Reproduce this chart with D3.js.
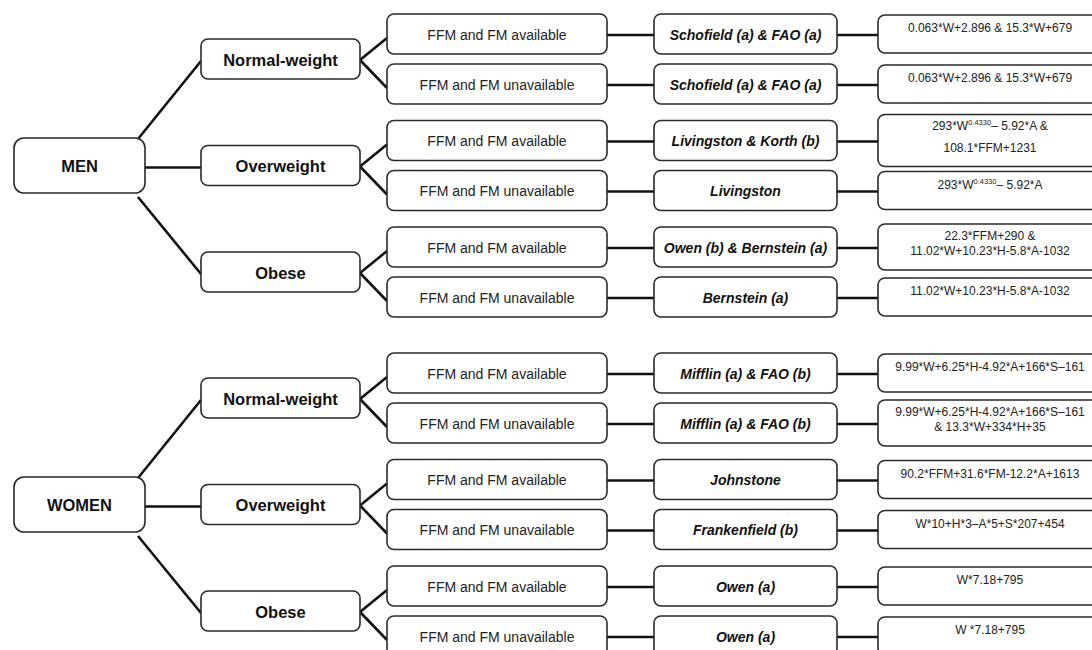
<!DOCTYPE html>
<html>
<head>
<meta charset="utf-8">
<script src="https://cdn.jsdelivr.net/npm/d3@7"></script>
<style>
  body { margin: 0; background: #fff; }
  svg { display: block; font-family: "Liberation Sans", Arial, Helvetica, sans-serif; }
</style>
</head>
<body>
<svg id="chart" width="1092" height="650"></svg>
<script>
// niveaux de l'arbre
const sexes = ["MEN", "WOMEN"];
const bmiClasses = ["Normal-weight", "Overweight", "Obese"];
const availability = ["FFM and FM available", "FFM and FM unavailable"];

// equation retenue pour chaque feuille (sexe x IMC x disponibilite)
const authors = [
  "Schofield (a) & FAO (a)", "Schofield (a) & FAO (a)",
  "Livingston & Korth (b)", "Livingston",
  "Owen (b) & Bernstein (a)", "Bernstein (a)",
  "Mifflin (a) & FAO (b)", "Mifflin (a) & FAO (b)",
  "Johnstone", "Frankenfield (b)",
  "Owen (a)", "Owen (a)"
];

// formules : "|" = retour a la ligne, ^{..} = exposant
const formulas = [
  "0.063*W+2.896 & 15.3*W+679",
  "0.063*W+2.896 & 15.3*W+679",
  "293*W^{0.4330}\u2013 5.92*A &|108.1*FFM+1231",
  "293*W^{0.4330}\u2013 5.92*A",
  "22.3*FFM+290 &|11.02*W+10.23*H-5.8*A-1032",
  "11.02*W+10.23*H-5.8*A-1032",
  "9.99*W+6.25*H-4.92*A+166*S\u2013161",
  "9.99*W+6.25*H-4.92*A+166*S\u2013161|& 13.3*W+334*H+35",
  "90.2*FFM+31.6*FM-12.2*A+1613",
  "W*10+H*3\u2013A*5+S*207+454",
  "W*7.18+795",
  "W *7.18+795"
];

const svg = d3.select("#chart");

// colonnes du schema
const col = {
  sex: { x: 14, w: 131, h: 55, r: 10 },
  bmi: { x: 201, w: 159, h: 40, r: 7 },
  avail: { x: 387, w: 220, h: 40, r: 7 },
  author: { x: 654, w: 183, h: 40, r: 7 },
  formula: { x: 878, w: 224, h: 38, r: 7 }
};

// construction des feuilles
const leaves = [];
sexes.forEach((s, si) => {
  bmiClasses.forEach((b, bi) => {
    availability.forEach((a, ai) => {
      const i = leaves.length;
      leaves.push({ i, si, bi, ai, pair: si * 3 + bi, avail: a,
        author: authors[i], formula: formulas[i] });
    });
  });
});

// position verticale : un pas par feuille + petit ecart entre paires et entre sexes
const slot = d => d.i + 0.13 * d.pair + 0.39 * d.si;
const y = d3.scaleLinear()
  .domain([0, slot(leaves[leaves.length - 1])])
  .range([34, 636]);

const bmiNodes = [];
sexes.forEach((s, si) => {
  bmiClasses.forEach((b, bi) => {
    const kids = leaves.filter(l => l.si === si && l.bi === bi);
    bmiNodes.push({ si, bi, name: b, cy: d3.mean(kids, k => y(slot(k))) });
  });
});
const sexNodes = sexes.map((s, si) => ({
  si, name: s, cy: d3.mean(bmiNodes.filter(n => n.si === si), n => n.cy)
}));

// ---- liens
const links = svg.append("g")
  .attr("stroke", "#111")
  .attr("stroke-width", 2.6)
  .attr("fill", "none");

sexNodes.forEach(sn => {
  const top = sn.cy - col.sex.h / 2, bot = sn.cy + col.sex.h / 2;
  bmiNodes.filter(n => n.si === sn.si).forEach(n => {
    let x1 = col.sex.x + col.sex.w - 7, y1;
    if (n.bi === 0) y1 = top + 1;
    else if (n.bi === 2) y1 = bot + 4;
    else { x1 = col.sex.x + col.sex.w; y1 = n.cy + 2; }
    links.append("line")
      .attr("x1", x1).attr("y1", y1)
      .attr("x2", col.bmi.x).attr("y2", n.cy + 2);
  });
});

bmiNodes.forEach(n => {
  leaves.filter(l => l.si === n.si && l.bi === n.bi).forEach(l => {
    links.append("line")
      .attr("x1", col.bmi.x + col.bmi.w).attr("y1", n.cy + 1)
      .attr("x2", col.avail.x).attr("y2", y(slot(l)) + 4);
  });
});

leaves.forEach(l => {
  const ly = y(slot(l)) + 1;
  links.append("line")
    .attr("x1", col.avail.x + col.avail.w).attr("y1", ly)
    .attr("x2", col.author.x).attr("y2", ly);
  links.append("line")
    .attr("x1", col.author.x + col.author.w).attr("y1", ly)
    .attr("x2", col.formula.x).attr("y2", ly);
});

// ---- boites
function box(g, c, cy, h) {
  g.append("rect")
    .attr("x", c.x).attr("y", cy - h / 2)
    .attr("width", c.w).attr("height", h)
    .attr("rx", c.r).attr("ry", c.r)
    .attr("fill", "#fff")
    .attr("stroke", "#2a2a2a")
    .attr("stroke-width", 1.6);
}

const boxes = svg.append("g");

sexNodes.forEach(n => {
  const g = boxes.append("g");
  box(g, col.sex, n.cy, col.sex.h);
  g.append("text")
    .attr("x", col.sex.x + col.sex.w / 2).attr("y", n.cy + 1)
    .attr("dy", "0.35em").attr("text-anchor", "middle")
    .attr("font-weight", "bold").attr("font-size", 16.5).attr("fill", "#111")
    .text(n.name);
});

bmiNodes.forEach(n => {
  const g = boxes.append("g");
  box(g, col.bmi, n.cy, col.bmi.h);
  g.append("text")
    .attr("x", col.bmi.x + col.bmi.w / 2).attr("y", n.cy + 1)
    .attr("dy", "0.35em").attr("text-anchor", "middle")
    .attr("font-weight", "bold").attr("font-size", 16.5).attr("fill", "#111")
    .text(n.name);
});

leaves.forEach(l => {
  const cy = y(slot(l));
  const g = boxes.append("g");

  box(g, col.avail, cy, col.avail.h);
  g.append("text")
    .attr("x", col.avail.x + col.avail.w / 2).attr("y", cy + 1)
    .attr("dy", "0.35em").attr("text-anchor", "middle")
    .attr("font-size", 14).attr("fill", "#222")
    .text(l.avail);

  box(g, col.author, cy, col.author.h);
  g.append("text")
    .attr("x", col.author.x + col.author.w / 2).attr("y", cy + 1)
    .attr("dy", "0.35em").attr("text-anchor", "middle")
    .attr("font-weight", "bold").attr("font-style", "italic")
    .attr("font-size", 14).attr("fill", "#111")
    .text(l.author);

  // formule (une ou deux lignes, exposants eventuels)
  const lines = l.formula.split("|");
  const hasSup = l.formula.includes("^{");
  const gap = hasSup ? 22 : 15;
  const h = lines.length === 1 ? col.formula.h : (hasSup ? 52 : 46);
  box(g, col.formula, cy, h);
  lines.forEach((line, k) => {
    const ty = cy - (lines.length - 1) * gap / 2 + k * gap - (lines.length === 1 ? 2 : 0);
    const t = g.append("text")
      .attr("x", col.formula.x + col.formula.w / 2).attr("y", ty)
      .attr("dy", "0.35em").attr("text-anchor", "middle")
      .attr("font-size", 12).attr("fill", "#222");
    const parts = line.split(/\^\{([^}]*)\}/);
    parts.forEach((p, pi) => {
      if (!p) return;
      if (pi % 2 === 1) {
        t.append("tspan").attr("font-size", 7.5).attr("dy", -5).text(p);
      } else {
        t.append("tspan").attr("dy", pi > 0 ? 5 : 0).text(p);
      }
    });
  });
});
</script>
</body>
</html>
